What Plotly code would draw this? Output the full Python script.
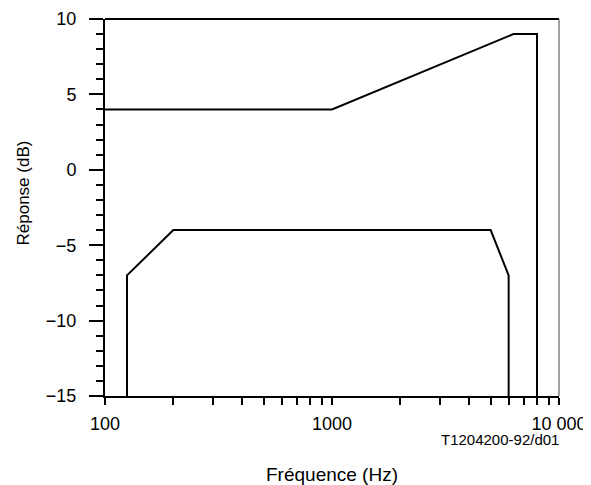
import plotly.graph_objects as go

# Upper limit mask
upper_freq = [100, 1000, 6300, 8000, 8000]
upper_db = [4, 4, 9, 9, -15]

# Lower limit mask
lower_freq = [125, 125, 200, 5000, 6000, 6000]
lower_db = [-15, -7, -4, -4, -7, -15]

x_major = [100, 1000, 10000]
x_major_text = ["100", "1000", "10 000"]
x_minor = [200, 300, 400, 500, 600, 700, 800, 900,
           2000, 3000, 4000, 5000, 6000, 7000, 8000, 9000]
y_major = [-15, -10, -5, 0, 5, 10]
y_major_text = ["\u221215", "\u221210", "\u22125", "0", "5", "10"]

FONT = "Liberation Sans, Arial, sans-serif"

# the page body adds an 8px offset; margins compensate for it
OFF = 8
PL, PR, PT, PB = 105, 559, 19, 396  # plot box in screenshot pixels
PW, PH = PR - PL, PB - PT

fig = go.Figure()
fig.add_trace(go.Scatter(x=upper_freq, y=upper_db, mode="lines",
                         line=dict(color="black", width=2), showlegend=False,
                         hoverinfo="skip"))
fig.add_trace(go.Scatter(x=lower_freq, y=lower_db, mode="lines",
                         line=dict(color="black", width=2), showlegend=False,
                         hoverinfo="skip"))

fig.update_layout(
    template="none",
    width=591, height=485,
    margin=dict(l=PL - OFF, r=591 - (PR - OFF), t=PT - OFF, b=485 - (PB - OFF),
                autoexpand=False),
    paper_bgcolor="white", plot_bgcolor="white",
    font=dict(family=FONT, color="black", size=18),
    xaxis=dict(
        type="log", range=[2, 4], automargin=False,
        tickmode="array", tickvals=x_major, ticktext=x_major_text,
        ticks="outside", ticklen=7, tickwidth=2, tickcolor="black",
        minor=dict(tickmode="array", tickvals=x_minor, ticks="outside",
                   ticklen=7, tickwidth=2, tickcolor="black"),
        showline=True, linewidth=2, linecolor="black", mirror=False,
        showgrid=False, zeroline=False,
        tickfont=dict(size=18), ticklabelstandoff=3,
    ),
    yaxis=dict(
        range=[-15, 10], automargin=False,
        tickmode="array", tickvals=y_major, ticktext=y_major_text,
        ticks="outside", ticklen=14, tickwidth=2, tickcolor="black",
        minor=dict(dtick=1, ticks="outside", ticklen=7, tickwidth=2,
                   tickcolor="black"),
        showline=True, linewidth=2, linecolor="black", mirror=False,
        showgrid=False, zeroline=False,
        tickfont=dict(size=18), ticklabelstandoff=9,
    ),
    shapes=[
        dict(type="line", xref="paper", yref="paper", x0=0, x1=1, y0=1, y1=1,
             line=dict(color="black", width=2)),
        dict(type="line", xref="paper", yref="paper", x0=1, x1=1, y0=0, y1=1,
             line=dict(color="#444444", width=1)),
    ],
    annotations=[
        dict(text="Fréquence (Hz)", xref="paper", yref="paper",
             x=0.5, y=-(475 - PB) / PH, xanchor="center", yanchor="middle",
             showarrow=False, font=dict(size=19)),
        dict(text="Réponse (dB)", xref="paper", yref="paper",
             x=-(PL - 22.5) / PW, y=(PB - 193) / PH, textangle=-90,
             xanchor="center", yanchor="middle",
             showarrow=False, font=dict(size=17)),
        dict(text="T1204200-92/d01", xref="paper", yref="paper",
             x=(561 - PL) / PW, y=-(440 - PB) / PH,
             xanchor="right", yanchor="middle",
             showarrow=False, font=dict(size=15)),
    ],
)

fig.write_html("out.html")
